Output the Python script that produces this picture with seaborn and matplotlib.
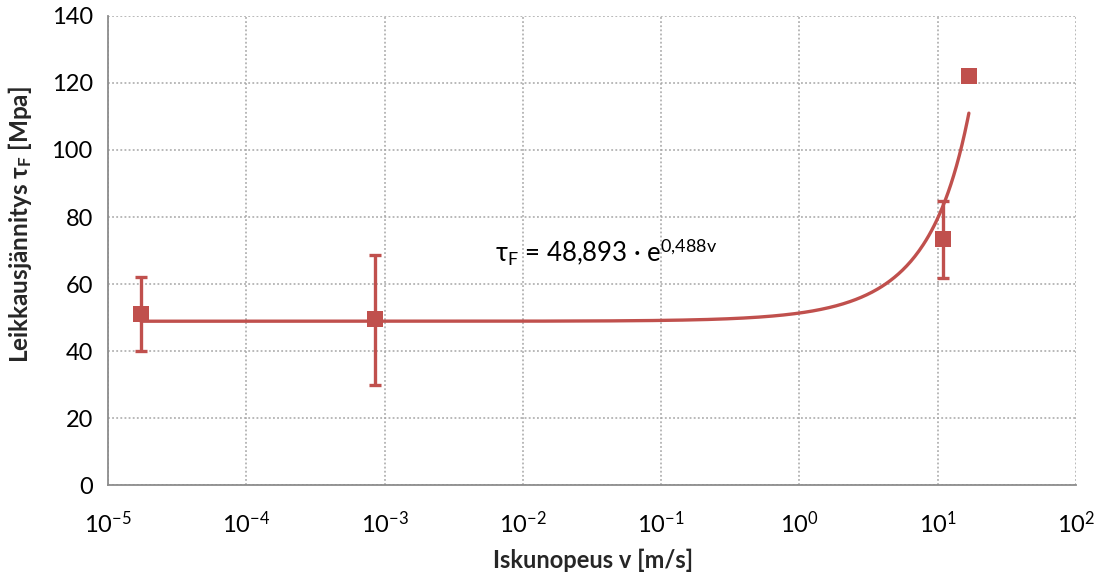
import numpy as np
import pandas as pd
import matplotlib
matplotlib.use("Agg")
import matplotlib.pyplot as plt
import seaborn as sns
from matplotlib.ticker import LogLocator, NullLocator, MultipleLocator

# data
velocity = [1.73e-5, 8.5e-4, 11.0, 16.8]          # m/s
shear = [51.0, 49.5, 73.3, 122.2]                  # MPa
err_low = [40.0, 30.0, 61.8, np.nan]
err_high = [62.0, 68.8, 84.8, np.nan]
# exponential trendline coefficients (shape as drawn)
fit_a = 48.893
fit_b = 0.0488

color = "#C0504D"
grid_c = "#A6A6A6"

sns.set_style("white")
plt.rcParams['font.family'] = ['Lato', 'DejaVu Sans']
plt.rcParams['mathtext.fontset'] = 'custom'
plt.rcParams['mathtext.rm'] = 'Lato'
plt.rcParams['mathtext.it'] = 'Lato:italic'
plt.rcParams['mathtext.bf'] = 'Lato:bold'

fig = plt.figure(figsize=(11.07, 5.77), dpi=100)
ax = fig.add_axes([0.0976, 0.1594, 0.8744, 0.8129])

df = pd.DataFrame({"v": velocity, "tau": shear, "lo": err_low, "hi": err_high})

# trendline
vv = np.logspace(np.log10(min(velocity)), np.log10(max(velocity)), 600)
trend = pd.DataFrame({"v": vv, "tau": fit_a * np.exp(fit_b * vv)})
sns.lineplot(data=trend, x="v", y="tau", ax=ax, color=color, lw=2.4, zorder=3)

# error bars
m = df["lo"].notna()
ax.errorbar(df.loc[m, "v"], df.loc[m, "tau"],
            yerr=[df.loc[m, "tau"] - df.loc[m, "lo"], df.loc[m, "hi"] - df.loc[m, "tau"]],
            fmt="none", ecolor=color, elinewidth=2.4, capsize=4.5, capthick=2.4, zorder=4)

sns.scatterplot(data=df, x="v", y="tau", ax=ax, marker="s", s=120, color=color,
                edgecolor=color, linewidth=0, zorder=5)

ax.set_xscale("log")
ax.set_xlim(1e-5, 1e2)
ax.set_ylim(0, 140)
ax.xaxis.set_major_locator(LogLocator(base=10, numticks=20))
ax.xaxis.set_minor_locator(NullLocator())
ax.yaxis.set_major_locator(MultipleLocator(20))

ax.grid(True, which="major", color=grid_c, linestyle=(0, (1.2, 1.5)), linewidth=1.1)
for s in ["top", "right"]:
    ax.spines[s].set_visible(False)
for s in ["left", "bottom"]:
    ax.spines[s].set_color("#8C8C8C")
    ax.spines[s].set_linewidth(1.3)
ax.tick_params(axis="both", which="major", direction="out", length=7, width=1.3,
               color="#8C8C8C", labelsize=17, pad=6, labelcolor="black")
ax.tick_params(axis="y", pad=4)
ax.tick_params(axis="x", pad=11)

ax.set_xlabel("Iskunopeus v [m/s]", fontsize=17, fontweight="bold")
ax.set_ylabel(r"Leikkausjännitys τ$_\mathbf{F}$ [Mpa]", fontsize=17.5, fontweight="bold")
ax.xaxis.set_label_coords(0.501, -0.135)
ax.yaxis.set_label_coords(-0.077, 0.556)

ax.text(0.400, 0.497, r"τ$_\mathregular{F}$ = 48,893 · e$^\mathregular{0{,}488v}$",
        transform=ax.transAxes, fontsize=18.5, color="black", ha="left", va="center")

fig.savefig("out.png", dpi=100)
